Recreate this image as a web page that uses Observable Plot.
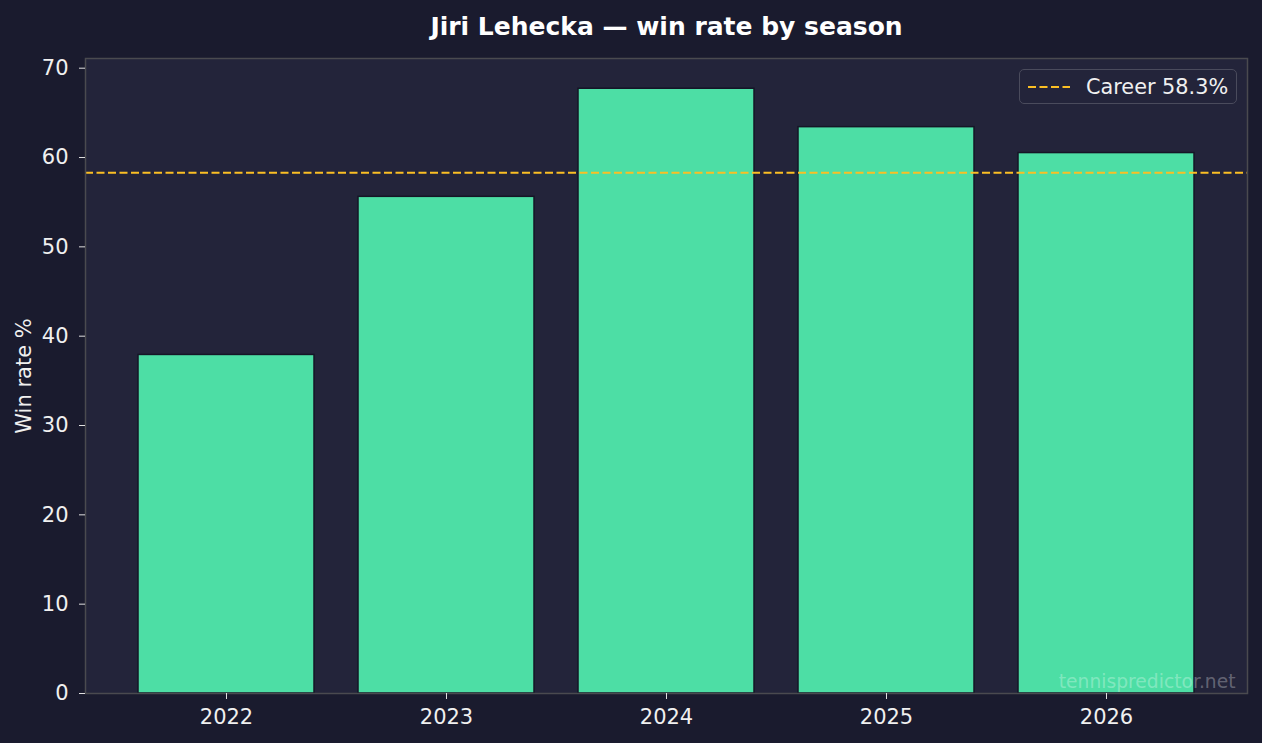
<!DOCTYPE html>
<html>
<head>
<meta charset="utf-8">
<script src="https://cdn.jsdelivr.net/npm/d3@7"></script>
<script src="https://cdn.jsdelivr.net/npm/@observablehq/plot@0.6"></script>
<style>
  html, body { margin: 0; padding: 0; background: #1a1b2e; }
  #wrap { position: relative; width: 1262px; height: 743px; font-family: "DejaVu Sans", sans-serif; }
  #legend { position: absolute; left: 1019px; top: 69px; width: 218px; height: 35px;
    border: 1.5px solid #4a4b5c; border-radius: 5px; background: #23243a; box-sizing: border-box;
    display: flex; align-items: center; color: #f0f0f0; font-size: 20.8px; }
  #legend svg { margin-left: 8px; margin-right: 16px; }
</style>
</head>
<body>
<div id="wrap"></div>
<script>
const seasons = ["2022", "2023", "2024", "2025", "2026"];
const winRates = [37.9, 55.6, 67.7, 63.4, 60.5];
const careerRate = 58.3;
const yTicks = [0, 10, 20, 30, 40, 50, 60, 70];
const title = "Jiri Lehecka — win rate by season";
const yLabel = "Win rate %";
const legendLabel = "Career 58.3%";
const watermark = "tennispredictor.net";

const data = seasons.map((s, i) => ({season: s, rate: winRates[i]}));
const textColor = "#f0f0f0";

const chart = Plot.plot({
  width: 1262,
  height: 743,
  marginTop: 58,
  marginBottom: 50,
  marginLeft: 85,
  marginRight: 15,
  style: { background: "#1a1b2e", color: textColor, fontFamily: "DejaVu Sans, sans-serif", fontSize: "21px" },
  x: { domain: seasons, paddingInner: 0.2, paddingOuter: 0.2409, label: null },
  y: { domain: [0, Math.max(...winRates) * 1.05], label: null },
  marks: [
    Plot.frame({ fill: "#23243a", stroke: null }),
    Plot.barY(data, { x: "season", y: "rate", fill: "#4ddea5", stroke: "#151626", strokeWidth: 1.5 }),
    Plot.ruleY([careerRate], { stroke: "#fbbf24", strokeWidth: 2, strokeDasharray: "8,3.5" }),
    Plot.text([watermark], { frameAnchor: "bottom-right", dx: -12, dy: -6, fill: "#ffffff", fillOpacity: 0.3, fontSize: 18.7 }),
    Plot.frame({ stroke: "#4a4a4f", strokeWidth: 1.5 }),
    Plot.axisY({ ticks: yTicks, tickSize: 6, tickPadding: 11, stroke: "#e0e0e0", fill: textColor, label: null, fontSize: 21 }),
    Plot.axisX({ tickSize: 6, tickPadding: 10, stroke: "#e0e0e0", fill: textColor, label: null, fontSize: 21 }),
    Plot.text([yLabel], { frameAnchor: "left", textAnchor: "middle", lineAnchor: "middle", dx: -61, rotate: -90, fill: textColor, fontSize: 21 }),
    Plot.text([title], { frameAnchor: "top", lineAnchor: "middle", dy: -32, fill: "#ffffff", fontWeight: "bold", fontSize: 25 })
  ]
});

const wrap = document.getElementById("wrap");
wrap.appendChild(chart);

const legend = document.createElement("div");
legend.id = "legend";
legend.innerHTML = `<svg width="42" height="4"><line x1="0" y1="2" x2="42" y2="2" stroke="#fbbf24" stroke-width="2" stroke-dasharray="8,3.5"/></svg><span>${legendLabel}</span>`;
wrap.appendChild(legend);
</script>
</body>
</html>
